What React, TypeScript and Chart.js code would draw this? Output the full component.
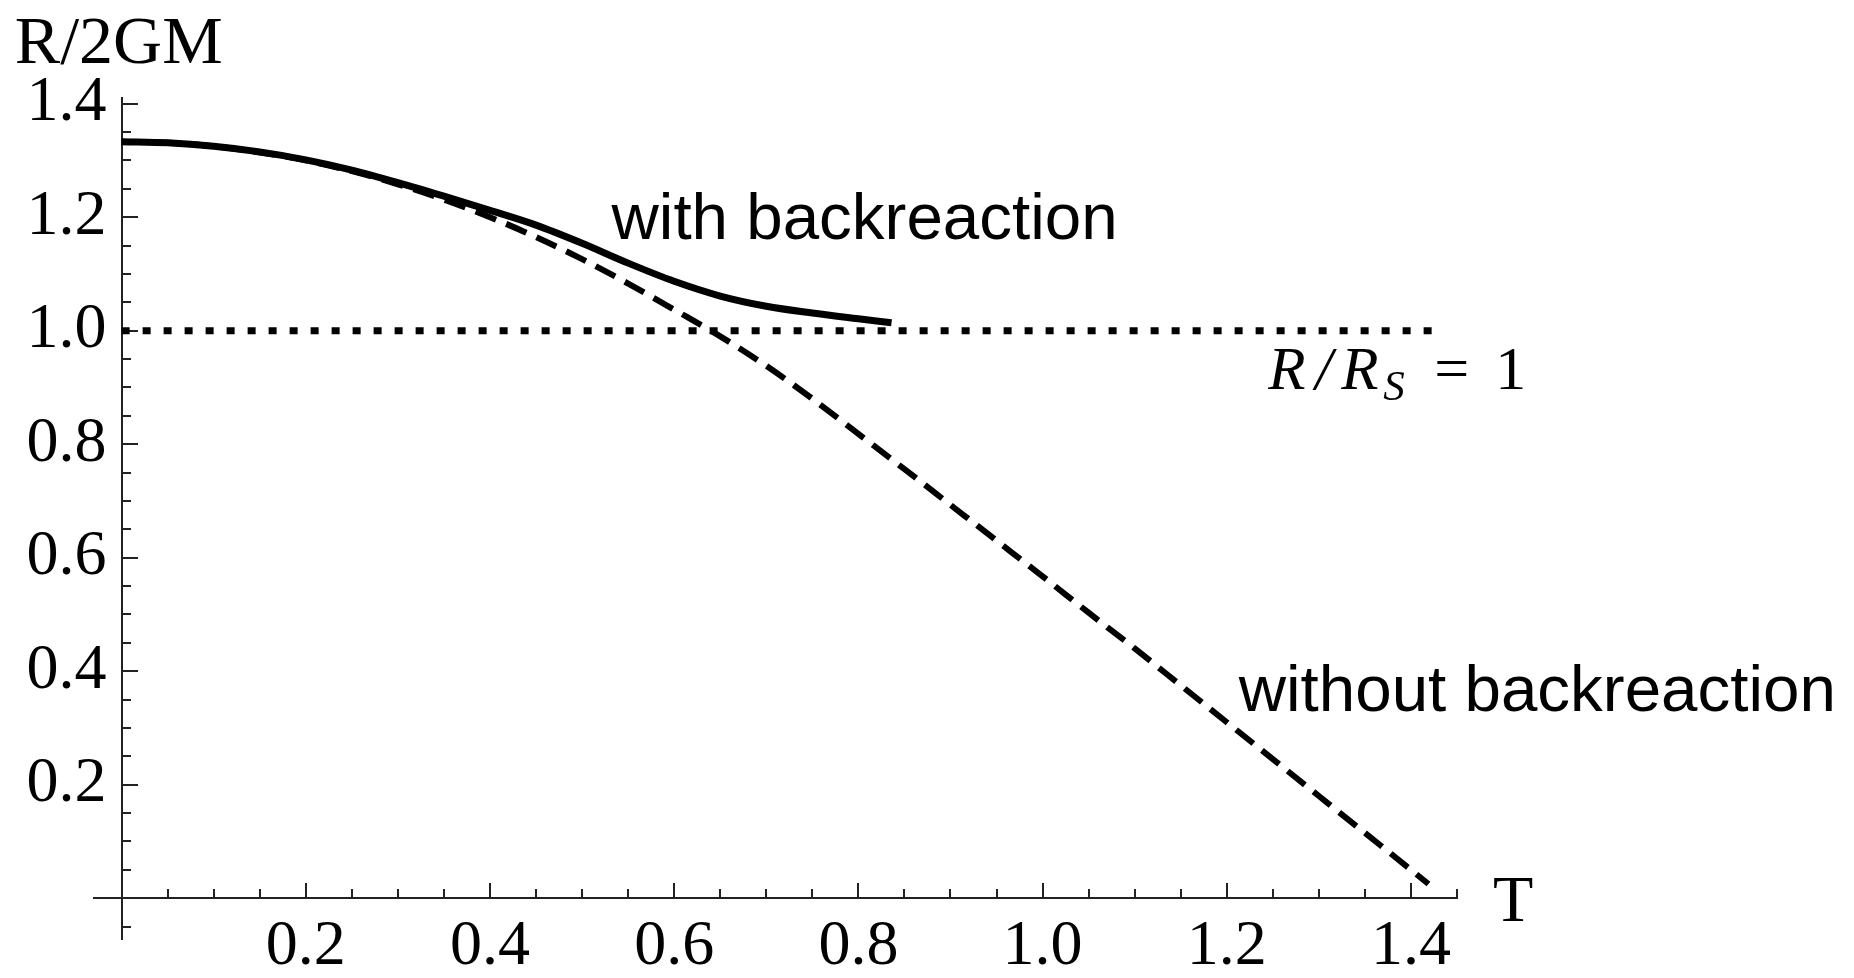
import React, { useEffect, useRef } from 'react';
import { Chart, registerables } from 'chart.js';

Chart.register(...registerables);

// ---- data ----
const tWith = [0, 0.05, 0.1, 0.15, 0.2, 0.25, 0.3, 0.35, 0.4, 0.45, 0.5, 0.55, 0.6, 0.65, 0.7, 0.75, 0.8, 0.836];
const rWith = [1.333, 1.331, 1.325, 1.315, 1.301, 1.283, 1.261, 1.237, 1.212, 1.186, 1.154, 1.119, 1.087, 1.061, 1.043, 1.031, 1.021, 1.014];

const tWithout = [0, 0.05, 0.1, 0.15, 0.2, 0.25, 0.3, 0.35, 0.4, 0.45, 0.5, 0.55, 0.6, 0.65, 0.7, 0.75, 0.8, 0.85, 0.9, 0.95, 1.0, 1.05, 1.1, 1.15, 1.2, 1.25, 1.3, 1.35, 1.4, 1.419];
const rWithout = [1.333, 1.331, 1.325, 1.314, 1.3, 1.281, 1.258, 1.231, 1.2, 1.165, 1.126, 1.083, 1.037, 0.99, 0.938, 0.88, 0.818, 0.756, 0.693, 0.63, 0.567, 0.503, 0.44, 0.375, 0.31, 0.245, 0.18, 0.115, 0.05, 0.025];

const tHorizon = [0, 1.423];
const rHorizon = [1, 1];

const xMajorTicks = [0, 0.2, 0.4, 0.6, 0.8, 1.0, 1.2, 1.4];
const xMajorLabels = ['', '0.2', '0.4', '0.6', '0.8', '1.0', '1.2', '1.4'];
const yMajorTicks = [0, 0.2, 0.4, 0.6, 0.8, 1.0, 1.2, 1.4];
const yMajorLabels = ['', '0.2', '0.4', '0.6', '0.8', '1.0', '1.2', '1.4'];
const xMinorTicks = [0.05, 0.1, 0.15, 0.2, 0.25, 0.3, 0.35, 0.4, 0.45, 0.5, 0.55, 0.6, 0.65, 0.7, 0.75, 0.8, 0.85, 0.9, 0.95, 1.0, 1.05, 1.1, 1.15, 1.2, 1.25, 1.3, 1.35, 1.4, 1.45];
const yMinorTicks = [-0.05, 0.05, 0.1, 0.15, 0.2, 0.25, 0.3, 0.35, 0.4, 0.45, 0.5, 0.55, 0.6, 0.65, 0.7, 0.75, 0.8, 0.85, 0.9, 0.95, 1.0, 1.05, 1.1, 1.15, 1.2, 1.25, 1.3, 1.35, 1.4];

const xAxisTitle = 'T';
const yAxisTitle = 'R/2GM';
const labelWith = 'with backreaction';
const labelWithout = 'without backreaction';

const X_MIN = -0.03;
const X_MAX = 1.45;
const Y_MIN = -0.072;
const Y_MAX = 1.41;

const SERIF = '"Liberation Serif", "Times New Roman", serif';
const SANS = '"Liberation Sans", Arial, sans-serif';
const AXIS_COLOR = '#222';

const toPts = (xs: number[], ys: number[]) => xs.map((x, i) => ({ x, y: ys[i] }));

const textPlugin = {
  id: 'annotTexts',
  afterDraw(chart: any) {
    const { ctx } = chart;
    const sx = chart.scales.x;
    const sy = chart.scales.y;
    const px = (v: number) => sx.getPixelForValue(v);
    const py = (v: number) => sy.getPixelForValue(v);
    ctx.save();
    ctx.fillStyle = '#000';
    ctx.textBaseline = 'alphabetic';
    ctx.textAlign = 'left';

    ctx.font = `68px ${SERIF}`;
    ctx.fillText(yAxisTitle, px(-0.116), py(1.472));
    ctx.font = `66px ${SERIF}`;
    ctx.fillText(xAxisTitle, px(1.489), py(-0.041));

    ctx.font = `65.5px ${SANS}`;
    ctx.fillText(labelWith, px(0.532), py(1.162));
    ctx.fillText(labelWithout, px(1.213), py(0.33));

    // R/R_S = 1
    const bx = px(1.245);
    const by = py(0.898);
    ctx.font = `italic 61px ${SERIF}`;
    ctx.fillText('R', bx, by);
    ctx.fillText('/', bx + 47, by);
    ctx.fillText('R', bx + 73, by);
    ctx.font = `italic 43px ${SERIF}`;
    ctx.fillText('S', bx + 115, by + 11);
    ctx.font = `62px ${SERIF}`;
    ctx.fillText('=', bx + 166, by);
    ctx.fillText('1', bx + 227, by);
    ctx.restore();
  },
};

function tickFont(ctx: any) {
  const lbl = ctx.tick && ctx.tick.label;
  return { family: SERIF, size: lbl ? 64 : 1 };
}

export default function App() {
  const ref = useRef<HTMLCanvasElement | null>(null);
  useEffect(() => {
    if (!ref.current) return;
    const chart = new Chart(ref.current, {
      type: 'scatter',
      data: {
        datasets: [
          {
            data: toPts(tHorizon, rHorizon),
            showLine: true,
            borderColor: '#000',
            borderWidth: 7,
            borderDash: [8, 13],
            borderCapStyle: 'butt',
            pointRadius: 0,
            fill: false,
          },
          {
            data: toPts(tWithout, rWithout),
            showLine: true,
            borderColor: '#000',
            borderWidth: 6,
            borderDash: [22, 11],
            borderCapStyle: 'butt',
            pointRadius: 0,
            cubicInterpolationMode: 'monotone',
            fill: false,
          },
          {
            data: toPts(tWith, rWith),
            showLine: true,
            borderColor: '#000',
            borderWidth: 7,
            pointRadius: 0,
            cubicInterpolationMode: 'monotone',
            fill: false,
          },
        ],
      } as any,
      options: {
        animation: false,
        responsive: false,
        devicePixelRatio: 1,
        layout: { padding: { left: 94, right: 397, top: 98, bottom: 39 } },
        plugins: { legend: { display: false }, tooltip: { enabled: false }, title: { display: false } },
        scales: {
          x2: {
            type: 'linear', min: X_MIN, max: X_MAX, bounds: 'data',
            position: { y: 0 } as any,
            afterBuildTicks: (s: any) => { s.ticks = xMinorTicks.map((v) => ({ value: v })); },
            ticks: { autoSkip: false, maxRotation: 0, padding: 0, callback: () => '', font: { size: 1 } },
            grid: { drawOnChartArea: false, drawTicks: true, tickLength: -10, lineWidth: 2, color: AXIS_COLOR },
            border: { display: true, width: 2, color: AXIS_COLOR },
          },
          y2: {
            type: 'linear', min: Y_MIN, max: Y_MAX, bounds: 'data',
            position: { x: 0 } as any,
            afterBuildTicks: (s: any) => { s.ticks = yMinorTicks.map((v) => ({ value: v })); },
            ticks: { autoSkip: false, padding: 0, callback: () => '', font: { size: 1 } },
            grid: { drawOnChartArea: false, drawTicks: true, tickLength: -10, lineWidth: 2, color: AXIS_COLOR },
            border: { display: true, width: 2, color: AXIS_COLOR },
          },
          y3: {
            type: 'linear', min: Y_MIN, max: Y_MAX, bounds: 'data',
            position: { x: 0 } as any,
            afterBuildTicks: (s: any) => { s.ticks = yMajorTicks.map((v) => ({ value: v })); },
            ticks: { autoSkip: false, padding: 0, callback: () => '', font: { size: 1 } },
            grid: { drawOnChartArea: false, drawTicks: true, tickLength: -16, lineWidth: 2, color: AXIS_COLOR },
            border: { display: false },
          },
          x: {
            type: 'linear', min: X_MIN, max: X_MAX, bounds: 'data',
            position: { y: 0 } as any,
            afterBuildTicks: (s: any) => { s.ticks = xMajorTicks.map((v) => ({ value: v })); },
            ticks: {
              autoSkip: false, maxRotation: 0, minRotation: 0, padding: 27, color: '#000',
              font: tickFont as any,
              callback: (_v: any, i: number) => xMajorLabels[i],
            },
            grid: { drawOnChartArea: false, drawTicks: true, tickLength: -16, lineWidth: 2, color: AXIS_COLOR },
            border: { display: true, width: 2, color: AXIS_COLOR },
          },
          y: {
            type: 'linear', min: Y_MIN, max: Y_MAX, bounds: 'data',
            position: { x: -0.0165 } as any,
            afterBuildTicks: (s: any) => { s.ticks = yMajorTicks.map((v) => ({ value: v })); },
            ticks: {
              autoSkip: false, padding: 0, color: '#000',
              font: tickFont as any,
              callback: (_v: any, i: number) => yMajorLabels[i],
            },
            grid: { display: false, drawOnChartArea: false, drawTicks: false },
            border: { display: false },
          },
        },
      } as any,
      plugins: [textPlugin],
    });
    return () => chart.destroy();
  }, []);
  return (
    <div style={{ position: 'fixed', left: 0, top: 0, width: '1854px', height: '978px', background: '#fff' }}>
      <canvas ref={ref} width={1854} height={978} style={{ display: 'block' }} />
    </div>
  );
}
